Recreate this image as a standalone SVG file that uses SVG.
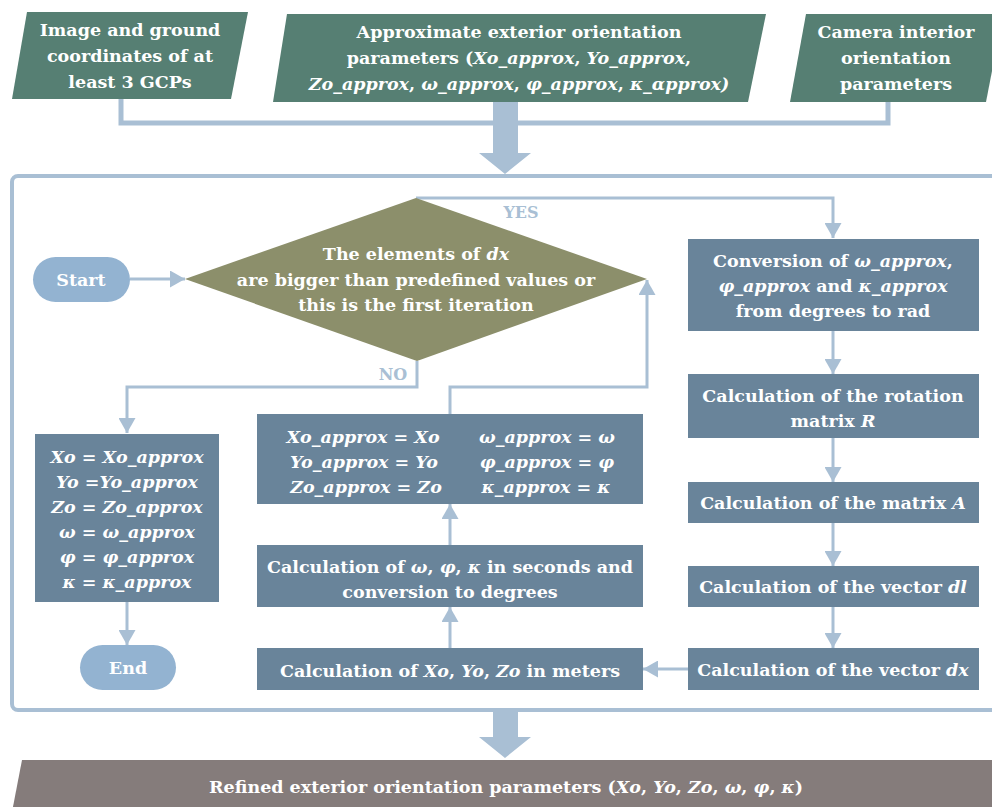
<svg xmlns="http://www.w3.org/2000/svg" width="992" height="807" viewBox="0 0 992 807">
  <defs>
    <style>
      .t { font-family: "DejaVu Serif", "Liberation Serif", serif; font-weight: bold; font-size: 17.5px; fill: #ffffff; text-anchor: middle; }
      .i { font-style: italic; }
      .lbl { font-family: "DejaVu Serif", "Liberation Serif", serif; font-weight: bold; font-size: 16px; fill: #a9bfd4; text-anchor: middle; }
      .in { fill: #567f73; }
      .proc { fill: #69849a; }
      .dec { fill: #8c8f6b; }
      .term { fill: #93b3d1; }
      .out { fill: #857c7b; }
      .wire { fill: none; stroke: #a9bfd4; stroke-width: 3; }
      .bus { fill: none; stroke: #a9bfd4; stroke-width: 5; }
      .big { fill: #a9bfd4; }
    </style>
    <marker id="head" viewBox="0 0 15 17" refX="15" refY="8.5" markerWidth="15" markerHeight="17" markerUnits="userSpaceOnUse" orient="auto">
      <path d="M0,0 L15,8.5 L0,17 z" fill="#a9bfd4"/>
    </marker>
  </defs>

  <rect width="992" height="807" fill="#ffffff"/>

  <!-- outer frame of the iterative loop -->
  <rect x="12" y="176" width="1000" height="534" rx="6" fill="none" stroke="#a9bfd4" stroke-width="4"/>

  <!-- connectors -->
  <g id="connectors">
    <path class="bus" d="M121,99 V123 H888 V102"/>
    <polygon class="big" points="493,102 518,102 518,153 531,153 505,174 479,153 493,153"/>
    <polygon class="big" points="493,712 518,712 518,737 531,737 505,758 479,737 493,737"/>
    <path class="wire" d="M130,279 H185" marker-end="url(#head)"/>
    <path class="wire" d="M416,198 H833 V238" marker-end="url(#head)"/>
    <path class="wire" d="M417,361 V387 H127 V433" marker-end="url(#head)"/>
    <path class="wire" d="M450,414 V387 H647 V280" marker-end="url(#head)"/>
    <path class="wire" d="M127,602 V645" marker-end="url(#head)"/>
    <path class="wire" d="M833,331 V374" marker-end="url(#head)"/>
    <path class="wire" d="M833,438 V482" marker-end="url(#head)"/>
    <path class="wire" d="M833,523 V566" marker-end="url(#head)"/>
    <path class="wire" d="M833,607 V648" marker-end="url(#head)"/>
    <path class="wire" d="M688,669 H643" marker-end="url(#head)"/>
    <path class="wire" d="M450,648 V607" marker-end="url(#head)"/>
    <path class="wire" d="M450,545 V504" marker-end="url(#head)"/>
    <text class="lbl" x="521" y="218">YES</text>
    <text class="lbl" x="393" y="380">NO</text>
  </g>

  <!-- inputs -->
  <g id="gcps">
    <polygon class="in" points="27,12 248,12 231,99 12,99"/>
    <text class="t" x="130" y="36">Image and ground</text>
    <text class="t" x="130" y="62">coordinates of at</text>
    <text class="t" x="130" y="88">least 3 GCPs</text>
  </g>
  <g id="approx-params">
    <polygon class="in" points="287,14 766,14 748,102 273,102"/>
    <text class="t" x="519" y="38">Approximate exterior orientation</text>
    <text class="t" x="519" y="64">parameters (<tspan class="i">Xo_approx</tspan>, <tspan class="i">Yo_approx</tspan>,</text>
    <text class="t" x="519" y="90"><tspan class="i">Zo_approx</tspan>, <tspan class="i">ω_approx</tspan>, <tspan class="i">φ_approx</tspan>, <tspan class="i">κ_αpprox)</tspan></text>
  </g>
  <g id="interior-params">
    <polygon class="in" points="806,14 1003,14 986,102 790,102"/>
    <text class="t" x="896" y="38">Camera interior</text>
    <text class="t" x="896" y="64">orientation</text>
    <text class="t" x="896" y="90">parameters</text>
  </g>

  <!-- loop -->
  <g id="start">
    <rect class="term" x="33" y="257" width="97" height="45" rx="22.5"/>
    <text class="t" x="81" y="286">Start</text>
  </g>
  <g id="check">
    <polygon class="dec" points="416,198 647,279 417,361 185,279"/>
    <text class="t" x="416" y="260">The elements of <tspan class="i">dx</tspan></text>
    <text class="t" x="416" y="286">are bigger than predefined values or</text>
    <text class="t" x="416" y="311">this is the first iteration</text>
  </g>
  <g id="deg2rad">
    <rect class="proc" x="688" y="239" width="291" height="92"/>
    <text class="t" x="833" y="267">Conversion of <tspan class="i">ω_approx</tspan>,</text>
    <text class="t" x="833" y="292"><tspan class="i">φ_approx</tspan> and <tspan class="i">κ_approx</tspan></text>
    <text class="t" x="833" y="317">from degrees to rad</text>
  </g>
  <g id="rotation">
    <rect class="proc" x="688" y="374" width="291" height="64"/>
    <text class="t" x="833" y="402">Calculation of the rotation</text>
    <text class="t" x="833" y="427">matrix <tspan class="i">R</tspan></text>
  </g>
  <g id="matrix-a">
    <rect class="proc" x="688" y="482" width="291" height="41"/>
    <text class="t" x="833" y="509">Calculation of the matrix <tspan class="i">A</tspan></text>
  </g>
  <g id="vector-dl">
    <rect class="proc" x="688" y="566" width="291" height="41"/>
    <text class="t" x="833" y="593">Calculation of the vector <tspan class="i">dl</tspan></text>
  </g>
  <g id="vector-dx">
    <rect class="proc" x="688" y="648" width="291" height="42"/>
    <text class="t" x="833" y="676">Calculation of the vector <tspan class="i">dx</tspan></text>
  </g>
  <g id="meters">
    <rect class="proc" x="257" y="648" width="386" height="42"/>
    <text class="t" x="450" y="677">Calculation of <tspan class="i">Xo</tspan>, <tspan class="i">Yo</tspan>, <tspan class="i">Zo</tspan> in meters</text>
  </g>
  <g id="degrees">
    <rect class="proc" x="257" y="545" width="386" height="62"/>
    <text class="t" x="450" y="573">Calculation of <tspan class="i">ω</tspan>, <tspan class="i">φ</tspan>, <tspan class="i">κ</tspan> in seconds and</text>
    <text class="t" x="450" y="598">conversion to degrees</text>
  </g>
  <g id="update">
    <rect class="proc" x="257" y="414" width="386" height="90"/>
    <text class="t i" x="363" y="443">Xo_approx = Xo</text>
    <text class="t i" x="364" y="468">Yo_approx = Yo</text>
    <text class="t i" x="366" y="493">Zo_approx = Zo</text>
    <text class="t i" x="547" y="443">ω_approx = ω</text>
    <text class="t i" x="547" y="468">φ_approx = φ</text>
    <text class="t i" x="546" y="493">κ_approx = κ</text>
  </g>
  <g id="final-values">
    <rect class="proc" x="35" y="434" width="184" height="168"/>
    <text class="t i" x="127" y="463">Xo = Xo_approx</text>
    <text class="t i" x="127" y="488">Yo =Yo_approx</text>
    <text class="t i" x="127" y="513">Zo = Zo_approx</text>
    <text class="t i" x="127" y="538">ω = ω_approx</text>
    <text class="t i" x="127" y="563">φ = φ_approx</text>
    <text class="t i" x="127" y="588">κ = κ_approx</text>
  </g>
  <g id="end">
    <rect class="term" x="80" y="645" width="96" height="45" rx="22.5"/>
    <text class="t" x="128" y="674">End</text>
  </g>

  <!-- output -->
  <g id="refined">
    <polygon class="out" points="22,760 1000,760 1000,812 12,812"/>
    <text class="t" x="506" y="793">Refined exterior orientation parameters (<tspan class="i">Xo</tspan>, <tspan class="i">Yo</tspan>, <tspan class="i">Zo</tspan>, <tspan class="i">ω</tspan>, <tspan class="i">φ</tspan>, <tspan class="i">κ</tspan>)</text>
  </g>
</svg>
